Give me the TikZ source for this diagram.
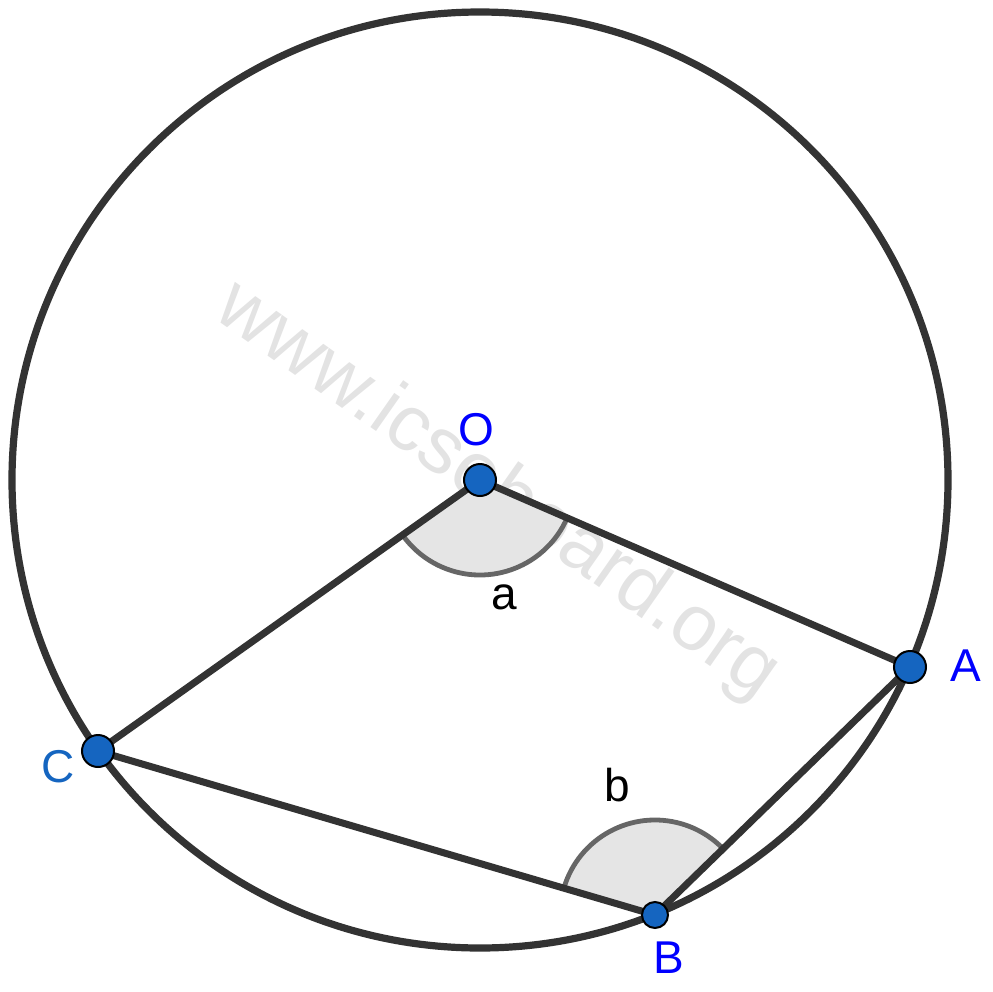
\documentclass[tikz,border=0pt]{standalone}
\usepackage{fontspec}
\setmainfont{Liberation Sans}
\definecolor{linec}{HTML}{333333}
\definecolor{ptfill}{HTML}{1565C0}
\definecolor{anglefill}{HTML}{E5E5E5}
\definecolor{anglearc}{HTML}{666666}
\definecolor{wm}{HTML}{E3E3E3}
\tikzset{
  pt/.style={circle, draw=black, line width=1pt, fill=ptfill, minimum size=16pt, inner sep=0pt},
  ptsmall/.style={pt, minimum size=13pt},
  seg/.style={draw=linec, line width=3.5pt},
  anglearcst/.style={draw=anglearc, line width=2.4pt},
  lbl/.style={inner sep=0pt, font=\fontsize{23}{27}\selectfont},
}
\begin{document}
\begin{tikzpicture}[x=0.5pt, y=-0.5pt]
\useasboundingbox (0,0) rectangle (993,992);
% watermark
\node[text=wm, font=\fontsize{39.5}{45}\selectfont, rotate=-35, anchor=base, inner sep=0pt] (wmark) at (485,508) {www.icseboard.org};
% circle
\draw[draw=linec, line width=3.6pt] (480,480) circle[radius=468];
% coordinates
\coordinate (Oc) at (480,480);
\coordinate (Ac) at (910,667);
\coordinate (Bc) at (655,915);
\coordinate (Cc) at (98,751);
% angles
\fill[anglefill] (Oc) -- ++(23.5:95) arc[start angle=23.5, end angle=144.6, radius=95] -- cycle;
\draw[anglearcst] (Oc) ++(23.5:95) arc[start angle=23.5, end angle=144.6, radius=95];
\fill[anglefill] (Bc) -- ++(196.4:95) arc[start angle=196.4, end angle=315.8, radius=95] -- cycle;
\draw[anglearcst] (Bc) ++(196.4:95) arc[start angle=196.4, end angle=315.8, radius=95];
% segments
\draw[seg] (Oc) -- (Ac);
\draw[seg] (Oc) -- (Cc);
\draw[seg] (Cc) -- (Bc);
\draw[seg] (Bc) -- (Ac);
% points
\node[pt] (O) at (Oc) {};
\node[pt] (A) at (Ac) {};
\node[pt] (C) at (Cc) {};
\node[ptsmall] (B) at (Bc) {};
% labels
\node[lbl, text=blue] (lO) at (476,430) {O};
\node[lbl, text=blue] (lA) at (966,666) {A};
\node[lbl, text=blue] (lB) at (669,958) {B};
\node[lbl, text=ptfill] (lC) at (58,767) {C};
\node[lbl] (la) at (504,597) {a};
\node[lbl] (lb) at (617,785) {b};
\end{tikzpicture}
\end{document}
